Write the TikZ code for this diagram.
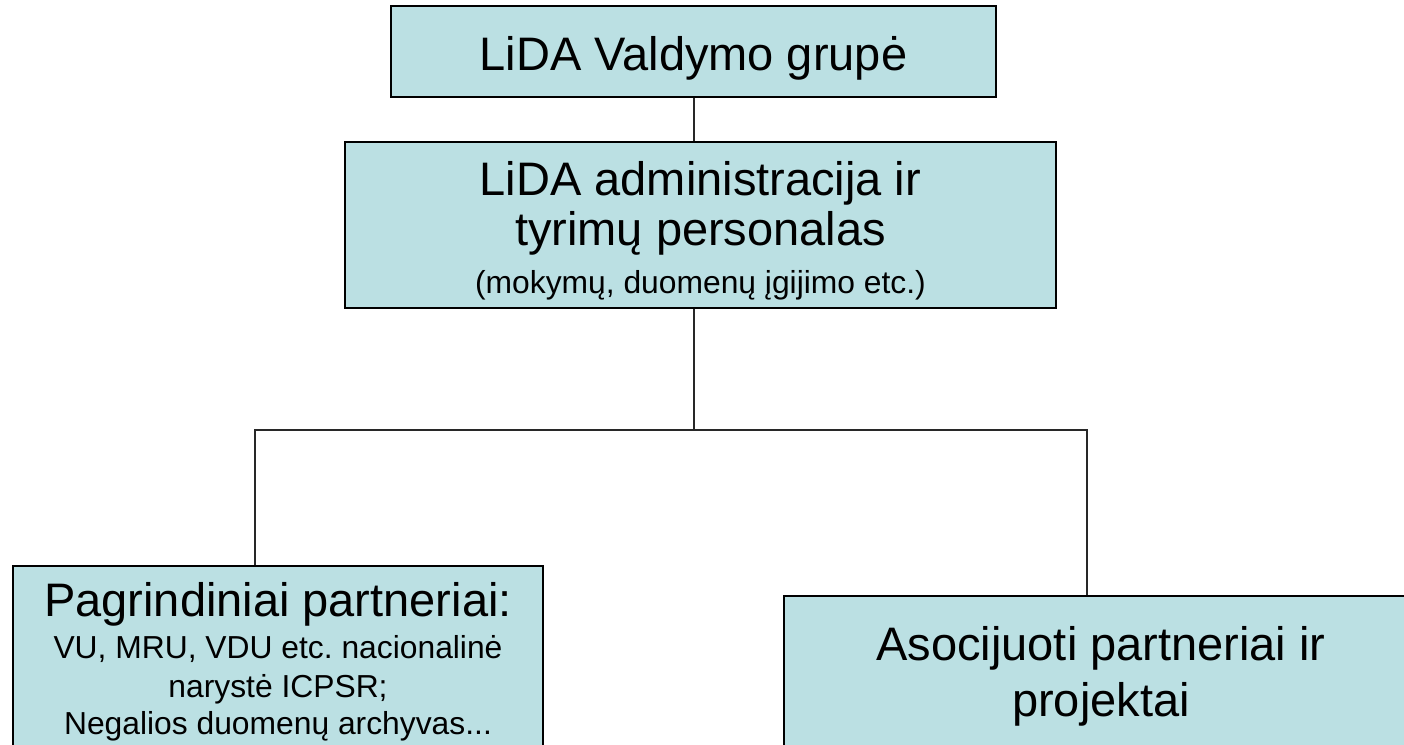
\documentclass[tikz,border=0pt]{standalone}
\usepackage{fontspec}
\setmainfont{Liberation Sans}
\usepackage{tikz}
\usetikzlibrary{positioning, calc}
\definecolor{boxTeal}{RGB}{187, 224, 227}
\definecolor{lineGray}{RGB}{40, 40, 40}
\newcommand{\headtxt}[1]{{\fontsize{26.74}{28.45}\selectfont #1}}
\newcommand{\subtxt}[1]{{\fontsize{18.1}{22}\selectfont #1}}
\frenchspacing

\begin{document}
\begin{tikzpicture}[
    every node/.style={font=\fontsize{26.74}{28.45}\selectfont},
    orgbox/.style={rectangle, draw=black, fill=boxTeal, line width=1.1pt, inner sep=0pt, align=flush center, anchor=base},
    link/.style={draw=lineGray, line width=0.85pt},
]
\useasboundingbox (0,0) rectangle (28.08,-14.88);
\clip (0,0) rectangle (28.08,-14.88);
\node[orgbox, text width=12.1cm, text height=1.28cm, text depth=0.54cm] (grp) at (13.87,-1.40) {LiDA Valdymo grupė};
\node[orgbox, text width=14.22cm, text height=1.06cm, text depth=2.26cm] (adm) at (14.01,-3.90) {LiDA administracija ir\\tyrimų personalas\\[-1.1pt]\subtxt{(mokymų, duomenų įgijimo etc.)}};
\node[orgbox, text width=10.6cm, text height=1.0cm, text depth=4cm, font=\fontsize{18.1}{22}\selectfont] (core) at (5.56,-12.32) {\headtxt{Pagrindiniai partneriai:}\\[1.9pt]VU, MRU, VDU etc. nacionalinė\\[0.2pt]narystė ICPSR;\\[-0.4pt]Negalios duomenų archyvas...};
\node[orgbox, text width=12.68cm, text height=1.28cm, text depth=4cm, font=\fontsize{26.74}{32.4}\selectfont] (assoc) at (22.02,-13.20) {Asocijuoti partneriai ir\\projektai};
\coordinate (hub) at (13.88,-8.60);
\coordinate (hubL) at (5.10,-8.60);
\coordinate (hubR) at (21.74,-8.60);
\draw[link] (grp.south -| hub) -- (adm.north -| hub);
\draw[link] (adm.south -| hub) -- (hub);
\draw[link] (hubL |- core.north) -- (hubL) -- (hubR) -- (hubR |- assoc.north);
\end{tikzpicture}
\end{document}
